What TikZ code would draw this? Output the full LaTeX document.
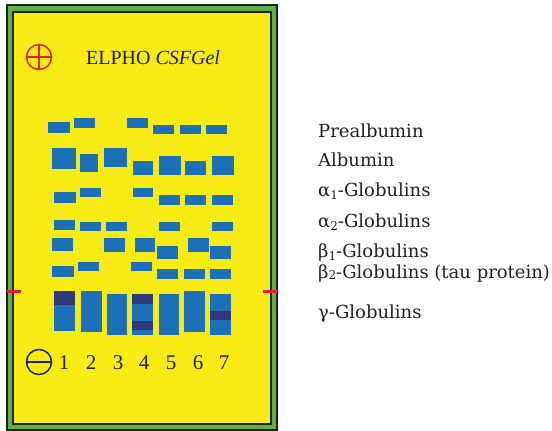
\documentclass[tikz,border=0pt]{standalone}
\usepackage{fontspec}
\setmainfont{Liberation Serif}
\newfontfamily\labelfont{DejaVu Serif}
\begin{document}
\begin{tikzpicture}[x=1pt,y=-1pt,
  band/.style={fill=bandblue},
  darkband/.style={fill=banddark},
  lanenum/.style={font=\fontsize{21}{21}\selectfont, text=inkdark, anchor=base, inner sep=0pt},
  fraction/.style={font=\labelfont\fontsize{18}{18}\selectfont, text=inkdark, anchor=base west, inner sep=0pt},
  electrode/.style={line width=1.5pt}
]
\definecolor{bandblue}{HTML}{1B70B8}
\definecolor{banddark}{HTML}{2E3A7C}
\definecolor{gelyellow}{HTML}{F6EB14}
\definecolor{framegreen}{HTML}{5DB246}
\definecolor{inkdark}{HTML}{231F20}
\definecolor{markred}{HTML}{E8202A}
\useasboundingbox (0,0) rectangle (552,431);

% gel frame: dark edge, green band, dark line, yellow gel
\fill[inkdark] (6,4) rectangle (278,431);
\fill[framegreen] (8,6) rectangle (276,429);
\fill[inkdark] (12,11) rectangle (272,425);
\fill[gelyellow] (14,13) rectangle (270,423);

% anode
\draw[electrode, markred] (39,57) circle (12.5);
\draw[electrode, markred] (26.5,57) -- (51.5,57) (39,44.5) -- (39,69.5);
\node[font=\fontsize{20}{20}\selectfont, text=inkdark, anchor=base, inner sep=0pt] (title) at (153,64) {ELPHO \textit{CSFGel}};

% prealbumin row
\fill[band] (48,122) rectangle (70,133);
\fill[band] (74,118) rectangle (95,128);
\fill[band] (127,118) rectangle (148,128);
\fill[band] (153,125) rectangle (174,134);
\fill[band] (180,125) rectangle (201,134);
\fill[band] (206,125) rectangle (227,134);

% albumin row
\fill[band] (52,148) rectangle (76,169);
\fill[band] (80,154) rectangle (98,172);
\fill[band] (104,148) rectangle (127,167);
\fill[band] (133,161) rectangle (153,175);
\fill[band] (159,156) rectangle (181,175);
\fill[band] (185,161) rectangle (206,175);
\fill[band] (212,156) rectangle (234,175);

% alpha-1 row
\fill[band] (54,192) rectangle (76,203);
\fill[band] (80,188) rectangle (101,197);
\fill[band] (133,188) rectangle (153,197);
\fill[band] (159,195) rectangle (180,205);
\fill[band] (185,195) rectangle (206,205);
\fill[band] (212,195) rectangle (233,205);

% alpha-2 row
\fill[band] (54,220) rectangle (75,230);
\fill[band] (80,222) rectangle (101,231);
\fill[band] (106,222) rectangle (127,231);
\fill[band] (159,222) rectangle (180,231);
\fill[band] (212,222) rectangle (233,231);

% beta-1 row
\fill[band] (52,238) rectangle (73,251);
\fill[band] (104,238) rectangle (125,252);
\fill[band] (135,238) rectangle (155,252);
\fill[band] (157,246) rectangle (178,259);
\fill[band] (188,238) rectangle (209,252);
\fill[band] (210,246) rectangle (231,259);

% beta-2 row
\fill[band] (52,266) rectangle (74,277);
\fill[band] (78,262) rectangle (99,271);
\fill[band] (131,262) rectangle (152,271);
\fill[band] (157,269) rectangle (178,279);
\fill[band] (184,269) rectangle (205,279);
\fill[band] (210,269) rectangle (231,279);

% gamma zone
\fill[band] (54,291) rectangle (75,331);
\fill[darkband] (54,291) rectangle (75,305);
\fill[band] (81,291) rectangle (102,332);
\fill[band] (107,294) rectangle (127,335);
\fill[band] (132,294) rectangle (153,335);
\fill[darkband] (132,294) rectangle (153,304);
\fill[darkband] (132,321) rectangle (153,330);
\fill[band] (159,294) rectangle (179,335);
\fill[band] (184,291) rectangle (205,332);
\fill[band] (210,294) rectangle (231,335);
\fill[darkband] (210,311) rectangle (231,320);

% application marks
\fill[markred] (7,289.5) rectangle (21,292.5);
\fill[markred] (263,289.5) rectangle (277,292.5);

% cathode and lane numbers
\draw[electrode, inkdark] (39,362) circle (12.5);
\draw[electrode, inkdark] (26.5,362) -- (51.5,362);
\node[lanenum] (l1) at (64,369.5) {1};
\node[lanenum] (l2) at (91,369.5) {2};
\node[lanenum] (l3) at (118,369.5) {3};
\node[lanenum] (l4) at (144,369.5) {4};
\node[lanenum] (l5) at (171,369.5) {5};
\node[lanenum] (l6) at (198,369.5) {6};
\node[lanenum] (l7) at (224,369.5) {7};

% fraction names
\node[fraction] (pre) at (318,137) {Prealbumin};
\node[fraction] (alb) at (318,166.5) {Albumin};
\node[fraction] (a1) at (318,196.5) {α\raisebox{-3pt}{\fontsize{12}{12}\selectfont 1}-Globulins};
\node[fraction] (a2) at (318,227) {α\raisebox{-3pt}{\fontsize{12}{12}\selectfont 2}-Globulins};
\node[fraction] (b1) at (318,257) {β\raisebox{-3pt}{\fontsize{12}{12}\selectfont 1}-Globulins};
\node[fraction] (b2) at (318,278.5) {β\raisebox{-1pt}{\fontsize{12}{12}\selectfont 2}-Globulins (tau protein)};
\node[fraction] (gam) at (318,318.5) {γ-Globulins};
\end{tikzpicture}
\end{document}
